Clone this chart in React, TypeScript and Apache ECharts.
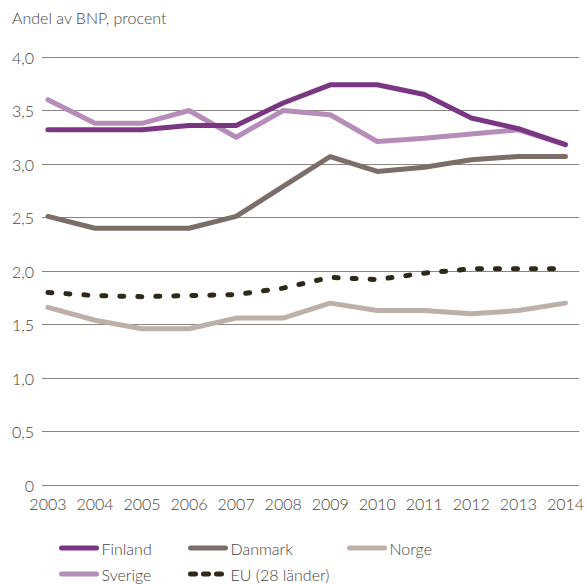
import React, { useEffect, useRef } from "react";
import * as echarts from "echarts";

const years = [2003, 2004, 2005, 2006, 2007, 2008, 2009, 2010, 2011, 2012, 2013, 2014];
const finland = [3.32, 3.32, 3.32, 3.36, 3.36, 3.57, 3.74, 3.74, 3.65, 3.43, 3.33, 3.18];
const sverige = [3.6, 3.38, 3.38, 3.5, 3.25, 3.5, 3.46, 3.21, 3.24, 3.28, 3.32, 3.18];
const danmark = [2.51, 2.4, 2.4, 2.4, 2.51, 2.79, 3.07, 2.93, 2.97, 3.04, 3.07, 3.07];
const norge = [1.66, 1.54, 1.46, 1.46, 1.56, 1.56, 1.7, 1.63, 1.63, 1.6, 1.63, 1.7];
const eu = [1.8, 1.77, 1.76, 1.77, 1.78, 1.84, 1.94, 1.92, 1.98, 2.02, 2.02, 2.02];

const FONT = "Lato, 'Open Sans', sans-serif";
const TEXT = "#4a4440";

const pairs = (vals: number[]) => years.map((y, i) => [y, vals[i]]);

export default function App() {
  const ref = useRef<HTMLDivElement>(null);
  useEffect(() => {
    if (!ref.current) return;
    const chart = echarts.init(ref.current, undefined, { renderer: "svg" });
    const lineSeries = (name: string, data: number[], color: string, extra: any = {}) => ({
      name,
      type: "line",
      data: pairs(data),
      symbol: "none",
      lineStyle: { color, width: 5, cap: "round", join: "round", ...extra },
      itemStyle: { color },
    });
    const legendItem = (name: string, left: number, top: number, lineExtra: any = {}) => ({
      data: [name],
      left,
      top,
      padding: 0,
      itemWidth: 35,
      itemHeight: 14,
      itemStyle: { opacity: 0, borderWidth: 0 },
      lineStyle: { width: 5, cap: "round", ...lineExtra },
      textStyle: { fontFamily: FONT, fontSize: 16, fontWeight: 300, color: TEXT },
    });
    chart.setOption({
      animation: false,
      textStyle: { fontFamily: FONT },
      title: {
        text: "Andel av BNP, procent",
        left: 12,
        top: 9,
        padding: 0,
        textStyle: { fontFamily: FONT, fontSize: 16, fontWeight: 300, color: TEXT },
      },
      grid: { left: 42, right: 0, top: 57, bottom: 99 },
      xAxis: {
        type: "value",
        min: 2002.874,
        max: 2014.293,
        axisLine: { show: false },
        axisTick: { show: false },
        splitLine: { show: false },
        axisLabel: {
          customValues: years,
          formatter: (v: number) => String(v),
          fontFamily: FONT,
          fontSize: 16,
          fontWeight: 300,
          color: TEXT,
          margin: 10,
        },
      },
      yAxis: {
        type: "value",
        min: 0,
        max: 4,
        interval: 0.5,
        axisLine: { show: false },
        axisTick: { show: false },
        splitLine: { lineStyle: { color: "#8a8580", width: 1 } },
        axisLabel: {
          formatter: (v: number) => (v === 0 ? "0" : v.toFixed(1).replace(".", ",")),
          fontFamily: FONT,
          fontSize: 16,
          fontWeight: 300,
          color: TEXT,
          margin: 8,
        },
      },
      legend: [
        legendItem("Finland", 59, 540),
        legendItem("Danmark", 188, 540),
        legendItem("Norge", 347, 540),
        legendItem("Sverige", 59, 566),
        legendItem("EU (28 länder)", 188, 566, { type: [5, 8] }),
      ],
      series: [
        lineSeries("Norge", norge, "#bcb0a8"),
        lineSeries("EU (28 länder)", eu, "#2e2919", { type: [4, 14] }),
        lineSeries("Danmark", danmark, "#7b6e68"),
        lineSeries("Sverige", sverige, "#b68db9"),
        lineSeries("Finland", finland, "#7a3683"),
      ],
    });
    return () => chart.dispose();
  }, []);
  return <div ref={ref} style={{ width: 587, height: 584, position: "absolute", left: 0, top: 0 }} />;
}
